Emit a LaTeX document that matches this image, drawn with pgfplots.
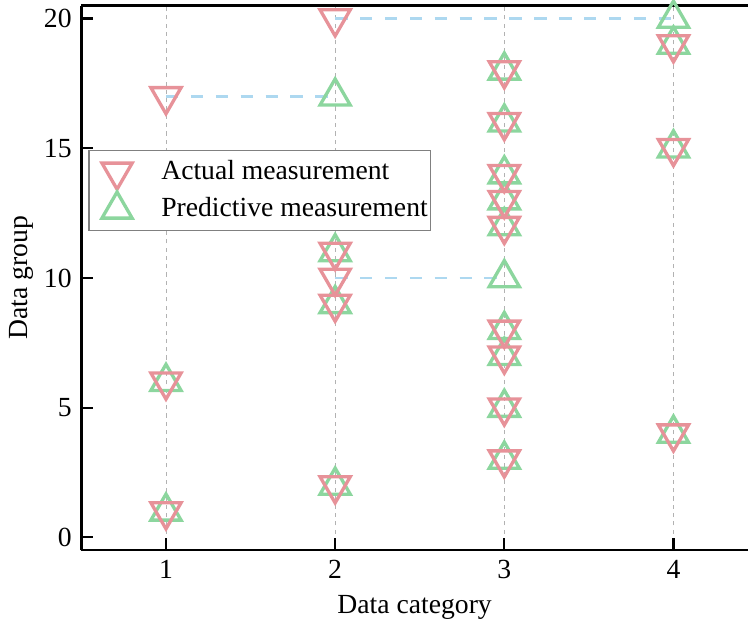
\documentclass[border=0pt]{standalone}
\usepackage{pgfplots}
\pgfplotsset{compat=1.18}
\usepackage{fontspec}
\setmainfont{Liberation Serif}
\definecolor{pinkm}{RGB}{231,146,153}
\definecolor{greenm}{RGB}{140,214,158}
\definecolor{bluel}{RGB}{173,216,240}
\begin{document}
\begin{tikzpicture}
\begin{axis}[
  scale only axis, width=241pt, height=197pt,
  xmin=0.5, xmax=4.44, ymin=-0.5, ymax=20.5,
  axis x line*=box, axis y line*=left,
  xtick={1,2,3,4}, ytick={0,5,10,15,20},
  tick align=inside, xtick pos=bottom, ytick pos=left,
  major tick length=4.3pt,
  tick style={line width=0.8pt, black},
  xmajorgrids, grid style={gray!60, dash pattern=on 1.5pt off 1.5pt, line width=0.3pt},
  axis line style={line width=0.8pt},
  xlabel={Data category}, ylabel={Data group},
  ylabel style={yshift=-3pt},
  xlabel style={yshift=1pt},
  /pgf/number format/assume math mode=true,
  clip=false,
  reverse legend,
  legend cell align=left,
  legend image code/.code={\path (-0.35cm,0cm) (0.52cm,0cm); \draw[mark repeat=2,mark phase=2,#1] plot coordinates {(-0.1cm,0cm)(0cm,0cm)(0.1cm,0cm)};},
  legend style={at={(rel axis cs:0.0105,0.735)}, anchor=north west, draw=gray, line width=0.4pt, fill=white, inner xsep=0pt, inner ysep=1.5pt, row sep=1pt, nodes={inner xsep=1pt}, font=\fontsize{10}{12}\selectfont},
]
\addplot[bluel, line width=0.9pt, dash pattern=on 4.5pt off 4.5pt, forget plot] coordinates {(1,17) (2,17)};
\addplot[bluel, line width=0.9pt, dash pattern=on 4.5pt off 4.5pt, forget plot] coordinates {(2,20) (4,20)};
\addplot[bluel, line width=0.9pt, dash pattern=on 4.5pt off 4.5pt, forget plot] coordinates {(2,10) (3,10)};
\addplot[only marks, mark=triangle, mark size=6.3pt, mark options={draw=greenm, fill=white, line width=1.2pt, solid}] coordinates {
(1,6) (1,1)
(2,17) (2,11) (2,9) (2,2)
(3,18) (3,16) (3,14) (3,13) (3,12) (3,10) (3,8) (3,7) (3,5) (3,3)
(4,20) (4,19) (4,15) (4,4)
};
\addlegendentry{Predictive measurement}
\addplot[only marks, mark=triangle, mark size=6.3pt, mark options={draw=pinkm, fill=white, line width=1.2pt, solid, rotate=180}] coordinates {
(1,17) (1,6) (1,1)
(2,20) (2,11) (2,10) (2,9) (2,2)
(3,18) (3,16) (3,14) (3,13) (3,12) (3,8) (3,7) (3,5) (3,3)
(4,19) (4,15) (4,4)
};
\addlegendentry{Actual measurement}
\end{axis}
\end{tikzpicture}
\end{document}
